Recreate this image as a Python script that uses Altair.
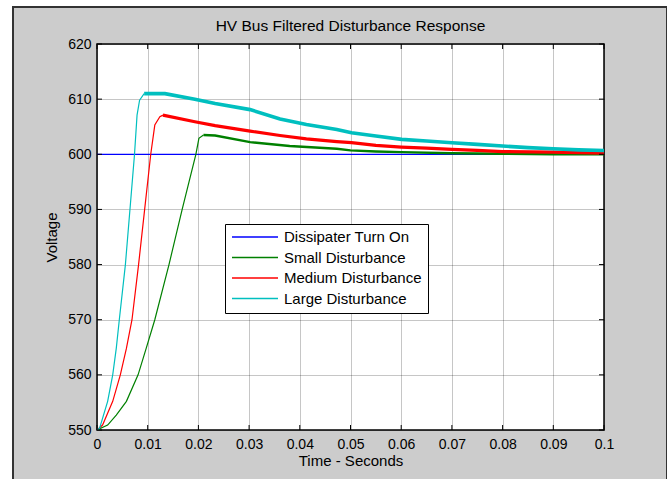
import altair as alt
import pandas as pd

# Trace names, colours and axis ticks
series = ["Dissipater Turn On", "Small Disturbance", "Medium Disturbance", "Large Disturbance"]
colors = ["#0000ff", "#008000", "#ff0000", "#00bfbf"]
x_ticks = [0, 0.01, 0.02, 0.03, 0.04, 0.05, 0.06, 0.07, 0.08, 0.09, 0.1]
y_ticks = [550, 560, 570, 580, 590, 600, 610, 620]

# Time (s) and filtered HV bus voltage (V) for each trace
t_turn_on = [0.0, 0.1]
v_turn_on = [600.0, 600.0]

t_small = [0, 0.0021, 0.0038, 0.0058, 0.0081, 0.0097, 0.0114, 0.0142, 0.0168, 0.0195,
           0.0201, 0.021, 0.0233, 0.0302, 0.038, 0.0473, 0.05, 0.055, 0.06, 0.07,
           0.08, 0.09, 0.1]
v_small = [550, 550.9, 552.7, 555.2, 560, 564.8, 570, 580, 590, 600,
           602.9, 603.5, 603.4, 602.2, 601.5, 601.0, 600.7, 600.5, 600.4, 600.2,
           600.1, 600.0, 600.0]

t_medium = [0, 0.0011, 0.0031, 0.0046, 0.0058, 0.0069, 0.0082, 0.0094, 0.0106, 0.0114,
            0.0124, 0.013, 0.0193, 0.0233, 0.0302, 0.0361, 0.0413, 0.0473, 0.0502, 0.055,
            0.06, 0.065, 0.07, 0.075, 0.08, 0.09, 0.1]
v_medium = [550, 550.9, 555.2, 560, 564.8, 570, 580, 590, 600, 605.3,
            606.8, 607.1, 605.9, 605.2, 604.2, 603.4, 602.8, 602.3, 602.1, 601.6,
            601.3, 601.1, 600.9, 600.7, 600.5, 600.4, 600.2]

t_large = [0, 0.0005, 0.0021, 0.0031, 0.0038, 0.0044, 0.0056, 0.0065, 0.0074, 0.0079,
           0.0084, 0.0093, 0.0134, 0.0193, 0.0233, 0.0302, 0.0361, 0.0413, 0.0473, 0.0502,
           0.055, 0.0601, 0.065, 0.07, 0.075, 0.08, 0.085, 0.09, 0.095, 0.1]
v_large = [550, 550.3, 555.2, 560, 564.8, 570, 580, 590, 600, 607.1,
           609.8, 611.0, 611.0, 610.0, 609.2, 608.1, 606.4, 605.4, 604.5, 603.9,
           603.3, 602.7, 602.4, 602.1, 601.8, 601.5, 601.2, 601.0, 600.8, 600.7]

W, H = 507, 386
FONT = "Liberation Sans"


def trace_frame(name, t, v, split=True):
    """Long table for one trace; the part from the peak on is a separate 'decay' segment."""
    peak = v.index(max(v)) if split else len(v) - 1
    rows = []
    for i, (ti, vi) in enumerate(zip(t, v)):
        if i <= peak:
            rows.append({"series": name, "t": ti, "v": vi, "seg": "rise"})
        if split and i >= peak:
            rows.append({"series": name, "t": ti, "v": vi, "seg": "decay"})
    return pd.DataFrame(rows)


x_axis = alt.Axis(title="Time - Seconds", values=x_ticks, format="~g", grid=True,
                  ticks=False, domain=False, labelPadding=7, titlePadding=2,
                  labelFontSize=14, titleFontSize=15, labelFlush=False)
y_axis = alt.Axis(title="Voltage", values=y_ticks, grid=True, ticks=False, domain=False,
                  labelPadding=6, titlePadding=8, labelFontSize=14, titleFontSize=15)
x_enc = alt.X("t:Q", scale=alt.Scale(domain=[0, 0.1], nice=False), axis=x_axis)
y_enc = alt.Y("v:Q", scale=alt.Scale(domain=[550, 620], nice=False), axis=y_axis)

color_enc = alt.Color(
    "series:N",
    scale=alt.Scale(domain=series, range=colors),
    legend=alt.Legend(
        title=None, orient="none", legendX=128, legendY=180,
        fillColor="white", strokeColor="black", cornerRadius=0,
        padding=6, labelFont=FONT, labelFontSize=15, labelColor="black",
        labelOffset=5, symbolType="stroke", symbolSize=2116, symbolStrokeWidth=1.5,
        clipHeight=14, rowPadding=5.5,
    ),
)


def line_layer(df, thick):
    return alt.Chart(df).mark_line(clip=True).encode(
        x=x_enc, y=y_enc, color=color_enc, detail="seg:N",
        strokeWidth=alt.condition(alt.datum.seg == "decay", alt.value(thick), alt.value(1.2)),
    )


blue = line_layer(trace_frame(series[0], t_turn_on, v_turn_on, split=False), 1.2)
green = line_layer(trace_frame(series[1], t_small, v_small), 2.4)
red = line_layer(trace_frame(series[2], t_medium, v_medium), 3.2)
cyan = line_layer(trace_frame(series[3], t_large, v_large), 3.6)

# Inward-pointing tick marks on all four sides of the axes box
xt = pd.DataFrame({"t": x_ticks})
yt = pd.DataFrame({"v": y_ticks})
tick_bottom = alt.Chart(xt).mark_rule(color="black", strokeWidth=1).encode(
    x=x_enc, y=alt.value(H), y2=alt.value(H - 5))
tick_top = alt.Chart(xt).mark_rule(color="black", strokeWidth=1).encode(
    x=x_enc, y=alt.value(0), y2=alt.value(5))
tick_left = alt.Chart(yt).mark_rule(color="black", strokeWidth=1).encode(
    y=y_enc, x=alt.value(0), x2=alt.value(5))
tick_right = alt.Chart(yt).mark_rule(color="black", strokeWidth=1).encode(
    y=y_enc, x=alt.value(W), x2=alt.value(W - 5))

# Figure window edge: white margin and dark frame around the grey panel
one = pd.DataFrame({"k": [0]})
def band(x, x2, y, y2, color):
    return alt.Chart(one).mark_rect(color=color).encode(
        x=alt.value(x), x2=alt.value(x2), y=alt.value(y), y2=alt.value(y2))

frame = [
    band(-97, -85, -44, 435, "white"),
    band(-97, 575, -44, -38, "white"),
    band(570, 575, -44, 435, "white"),
    band(-85, -83, -38, 435, "#333333"),
    band(-85, 570, -38, -36, "#333333"),
    band(569, 570, -38, 435, "#333333"),
]

chart = alt.layer(
    *frame, blue, green, red, cyan, tick_bottom, tick_top, tick_left, tick_right
).properties(
    width=W, height=H,
    title=alt.TitleParams("HV Bus Filtered Disturbance Response", fontSize=15.5,
                          fontWeight="normal", color="black", anchor="middle",
                          frame="group", offset=0, baseline="alphabetic", dy=46,
                          font=FONT),
    autosize=alt.AutoSizeParams(type="none"),
    padding={"left": 97, "top": 44, "right": 68, "bottom": 49},
    background="#cccccc",
).configure(font=FONT).configure_view(
    fill="white", stroke="black", strokeWidth=1.5
).configure_axis(
    labelFont=FONT, titleFont=FONT, labelColor="black", titleColor="black",
    titleFontWeight="normal", gridColor="#000000", gridOpacity=0.45,
    gridDash=[1, 1], gridWidth=1,
)

chart.save("out.html", embed_options={"renderer": "svg", "actions": False})
